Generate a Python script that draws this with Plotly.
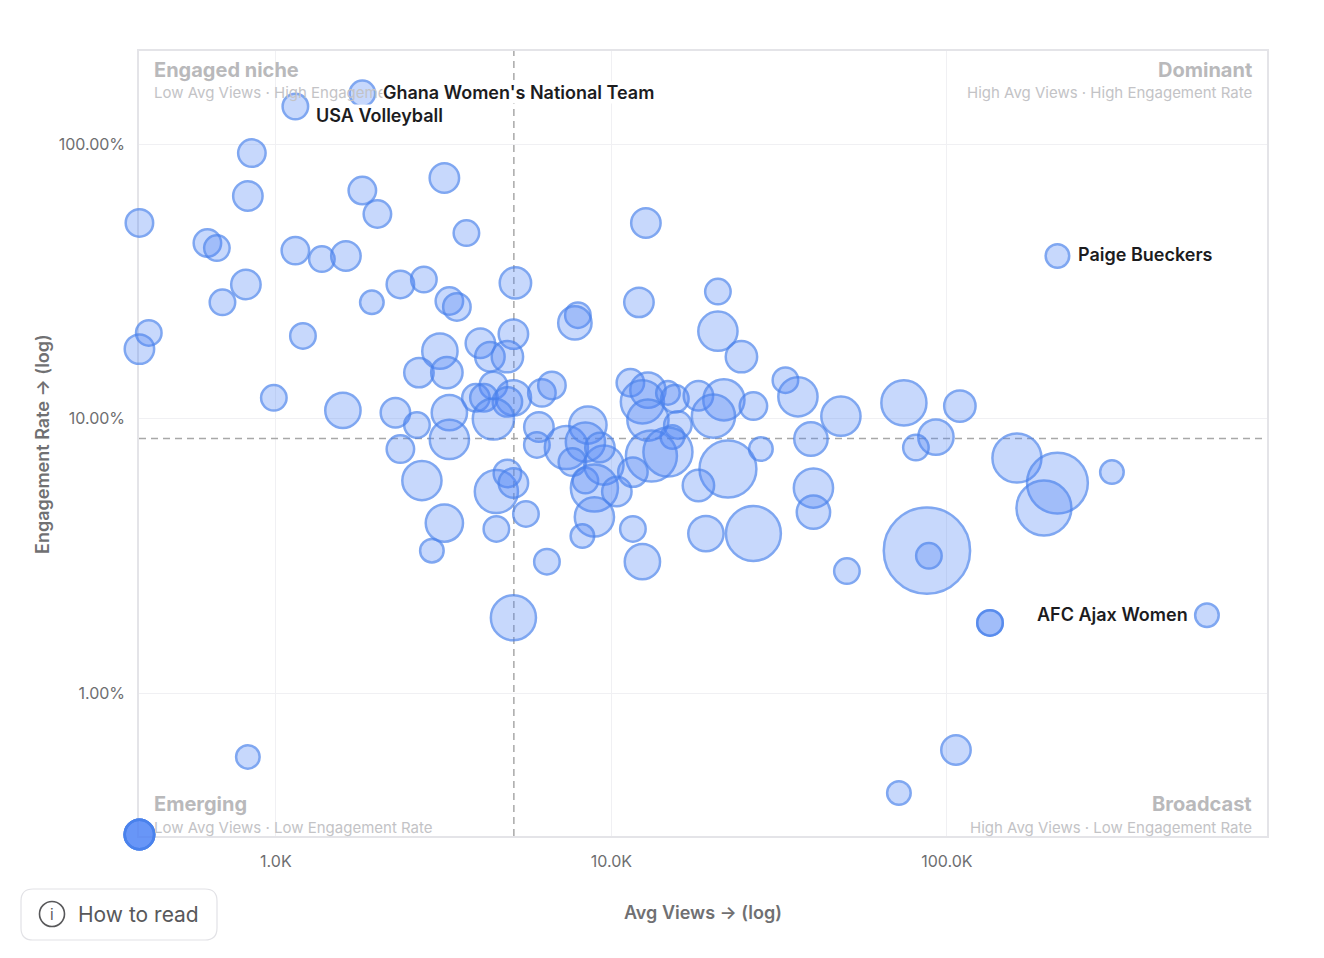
import numpy as np
import plotly.graph_objects as go

# ---------------- data ----------------
avg_views = [
    1810, 1143, 848, 825, 392, 1810, 2007, 3178, 12670, 625,
    667, 1143, 1371, 1617, 3697, 814, 693, 1932, 2350, 2761,
    3289, 3463, 5175, 12080, 20770, 213500, 418, 392, 1204, 986,
    1584, 5104, 7945, 7783, 20770, 24410, 3082, 2669, 3233, 4069,
    4344, 4898, 4449, 3946, 4169, 5104, 4898, 4449, 6206, 6648,
    2271, 2633, 3289, 3289, 2350, 6080, 5997, 7342, 8511, 8366,
    2724, 4541, 4898, 5104, 5563, 4541, 3178, 2917, 6424, 5104,
    11390, 12850, 12370, 14740, 15460, 18170, 21640, 20140, 12850, 15780,
    15200, 13160, 14740, 22250, 18170, 27900, 26500, 33010, 35970, 7651,
    8366, 9498, 8898, 10380, 11590, 8898, 8195, 11590, 12370, 9242,
    48310, 74440, 109300, 39330, 92730, 80830, 40010, 40010, 19130, 26500,
    87180, 88370, 50340, 161700, 213500, 194600, 310300, 134400, 134400, 595600,
    825, 71930, 106400, 392, 392, 392, 392, 392,
]
engagement_pct = [
    153, 137, 92.7, 64.7, 51.6, 67.7, 55.6, 75.2, 51.6, 43.6,
    41.8, 40.9, 38.1, 39.1, 47.4, 30.8, 26.5, 26.5, 30.8, 32.1,
    26.8, 25.5, 31.2, 26.5, 29.0, 39.1, 20.5, 17.9, 20.0, 11.9,
    10.7, 20.3, 23.8, 22.3, 20.8, 16.8, 17.6, 14.7, 14.7, 18.8,
    16.8, 16.8, 13.2, 11.9, 11.9, 11.9, 11.5, 9.96, 12.4, 13.2,
    10.5, 9.47, 10.5, 8.39, 7.74, 9.31, 8.01, 7.84, 9.47, 8.21,
    5.94, 5.42, 6.31, 5.82, 4.49, 3.96, 4.16, 3.30, 3.01, 1.88,
    13.5, 12.7, 11.5, 12.4, 11.8, 12.1, 11.7, 10.2, 9.87, 9.47,
    8.56, 7.30, 7.55, 6.55, 5.70, 7.74, 11.1, 13.8, 12.0, 6.94,
    5.94, 6.77, 5.58, 5.42, 6.38, 4.38, 3.73, 3.96, 3.01, 7.84,
    10.2, 11.4, 11.1, 8.42, 8.56, 7.84, 5.58, 4.56, 3.81, 3.81,
    3.30, 3.16, 2.78, 7.18, 5.82, 4.72, 6.38, 1.80, 1.80, 1.92,
    0.585, 0.432, 0.620, 0.305, 0.305, 0.305, 0.305, 0.305,
]
followers_k = [
    169, 169, 196, 225, 196, 196, 196, 225, 225, 196,
    169, 196, 169, 225, 169, 225, 169, 144, 196, 169,
    196, 196, 256, 225, 169, 144, 169, 225, 169, 169,
    324, 225, 169, 289, 400, 256, 324, 225, 256, 225,
    225, 256, 196, 196, 196, 324, 225, 441, 196, 196,
    225, 169, 324, 400, 196, 225, 169, 484, 361, 400,
    400, 484, 196, 225, 169, 169, 361, 144, 169, 529,
    196, 324, 484, 144, 196, 225, 441, 484, 441, 196,
    144, 676, 625, 841, 256, 144, 196, 169, 400, 196,
    169, 400, 576, 225, 225, 400, 144, 169, 324, 225,
    400, 529, 256, 289, 324, 169, 400, 289, 324, 784,
    1936, 169, 169, 625, 961, 784, 144, 169, 169, 144,
    144, 144, 225, 225, 225, 225, 225, 225,
]

# labelled accounts: (index into arrays, name)
label_index = [0, 1, 25, 119]
label_names = ["Ghana Women's National Team", "USA Volleyball",
               "Paige Bueckers", "AFC Ajax Women"]

median_views = 5120
median_engagement_pct = 8.45

x_tickvals = [1000, 10000, 100000]
x_ticktext = ["1.0K", "10.0K", "100.0K"]
y_tickvals = [0.01, 0.1, 1.0]
y_ticktext = ["1.00%", "10.00%", "100.00%"]

x_range_log = [2.592, 5.954]
y_range_log = [-2.521, 0.339]

quadrants = [
    ("Engaged niche", "Low Avg Views · High Engagement Rate", "top", "left"),
    ("Dominant", "High Avg Views · High Engagement Rate", "top", "right"),
    ("Emerging", "Low Avg Views · Low Engagement Rate", "bottom", "left"),
    ("Broadcast", "High Avg Views · Low Engagement Rate", "bottom", "right"),
]

# ---------------- figure ----------------
W, H = 1324, 958
ML, MR, MT, MB = 139, 57, 51, 122
PW, PH = W - ML - MR, H - MT - MB


def px_x(p):
    return (p - ML) / PW


def px_y(p):
    return (H - MB - p) / PH


eng = [v / 100 for v in engagement_pct]
FONT = "Inter"
BLUE = "rgb(74,130,236)"
FILL = "rgba(79,134,247,0.45)"

ymin, ymax = 10 ** y_range_log[0], 10 ** y_range_log[1]
xmin, xmax = 10 ** x_range_log[0], 10 ** x_range_log[1]

fig = go.Figure()

# median threshold lines
fig.add_trace(go.Scatter(
    x=[median_views, median_views], y=[ymin, ymax], mode="lines",
    line=dict(color="#a8a8a8", width=1.5, dash="7px,5px"),
    hoverinfo="skip", showlegend=False, cliponaxis=True))
fig.add_trace(go.Scatter(
    x=[xmin, xmax], y=[median_engagement_pct / 100] * 2, mode="lines",
    line=dict(color="#a8a8a8", width=1.5, dash="7px,5px"),
    hoverinfo="skip", showlegend=False, cliponaxis=True))

fig.add_trace(go.Scatter(
    x=avg_views, y=eng, mode="markers",
    marker=dict(size=followers_k, sizemode="area", sizeref=0.52,
                color=FILL, line=dict(color=BLUE, width=2.5)),
    cliponaxis=False, showlegend=False, hoverinfo="skip"))

annotations = []
# quadrant labels
for title, sub, vert, horiz in quadrants:
    xp = px_x(152) if horiz == "left" else px_x(1254)
    if vert == "top":
        yt, ys = px_y(70), px_y(92)
    else:
        yt, ys = px_y(804), px_y(827)
    annotations.append(dict(
        x=xp, y=yt, xref="paper", yref="paper", text=title, showarrow=False,
        xanchor=horiz, yanchor="middle",
        font=dict(family=FONT, size=20, color="#b9b9bb", weight=700)))
    annotations.append(dict(
        x=xp, y=ys, xref="paper", yref="paper", text=sub, showarrow=False,
        xanchor=horiz, yanchor="middle",
        font=dict(family=FONT, size=15, color="#c3c3c6")))

# point labels
for idx, name in zip(label_index, label_names):
    xv = np.log10(avg_views[idx])
    yv = np.log10(eng[idx])
    if name == "AFC Ajax Women":
        a = dict(xanchor="right", xshift=-18, yshift=1)
    elif name == "USA Volleyball":
        a = dict(xanchor="left", xshift=20, yshift=-9)
    else:
        a = dict(xanchor="left", xshift=20, yshift=1)
    annotations.append(dict(
        x=xv, y=yv, xref="x", yref="y", text=name, showarrow=False,
        yanchor="middle", bgcolor="white", borderpad=0,
        font=dict(family=FONT, size=18, color="#1c1c1e", weight=600),
        **a))

# axis titles
annotations.append(dict(
    x=px_x(703), y=px_y(912), xref="paper", yref="paper",
    text="Avg Views → (log)", showarrow=False, xanchor="center", yanchor="middle",
    font=dict(family=FONT, size=18, color="#707072", weight=600)))
annotations.append(dict(
    x=px_x(42), y=px_y(444), xref="paper", yref="paper",
    text="Engagement Rate → (log)", showarrow=False, textangle=-90,
    xanchor="center", yanchor="middle",
    font=dict(family=FONT, size=18, color="#707072", weight=600)))

# "How to read" button
annotations.append(dict(
    x=px_x(76), y=px_y(914), xref="paper", yref="paper", text="How to read",
    showarrow=False, xanchor="left", yanchor="middle",
    font=dict(family=FONT, size=21, color="#58585a")))
annotations.append(dict(
    x=px_x(52), y=px_y(914), xref="paper", yref="paper", text="i",
    showarrow=False, xanchor="center", yanchor="middle",
    font=dict(family=FONT, size=15, color="#58585a")))


def rounded_rect(x0, y0, x1, y1, r):
    # pixel coords -> paper path
    X = lambda p: f"{px_x(p):.5f}"
    Y = lambda p: f"{px_y(p):.5f}"
    return (f"M {X(x0 + r)} {Y(y0)} L {X(x1 - r)} {Y(y0)} "
            f"Q {X(x1)} {Y(y0)} {X(x1)} {Y(y0 + r)} L {X(x1)} {Y(y1 - r)} "
            f"Q {X(x1)} {Y(y1)} {X(x1 - r)} {Y(y1)} L {X(x0 + r)} {Y(y1)} "
            f"Q {X(x0)} {Y(y1)} {X(x0)} {Y(y1 - r)} L {X(x0)} {Y(y0 + r)} "
            f"Q {X(x0)} {Y(y0)} {X(x0 + r)} {Y(y0)} Z")


shapes = [
    dict(type="path", xref="paper", yref="paper",
         path=rounded_rect(21, 889, 217, 940, 12),
         line=dict(color="#e2e2e6", width=1.2), fillcolor="white", layer="above"),
    dict(type="circle", xref="paper", yref="paper",
         x0=px_x(39.5), x1=px_x(64.5), y0=px_y(926.5), y1=px_y(901.5),
         line=dict(color="#58585a", width=1.6), layer="above"),
]

fig.update_layout(
    width=W, height=H,
    margin=dict(l=ML, r=MR, t=MT, b=MB, pad=0),
    paper_bgcolor="white", plot_bgcolor="white",
    showlegend=False, hovermode=False,
    font=dict(family=FONT, color="#707072"),
    annotations=annotations, shapes=shapes,
    xaxis=dict(type="log", range=x_range_log, tickvals=x_tickvals, ticktext=x_ticktext,
               showgrid=True, gridcolor="#f0f0f3", gridwidth=1, zeroline=False,
               showline=True, mirror=True, linecolor="#e4e4e8", linewidth=1.5,
               layer="below traces",
               ticks="", ticklabelstandoff=10,
               tickfont=dict(family=FONT, size=16, color="#6e6e70")),
    yaxis=dict(type="log", range=y_range_log, tickvals=y_tickvals, ticktext=y_ticktext,
               showgrid=True, gridcolor="#f0f0f3", gridwidth=1, zeroline=False,
               showline=True, mirror=True, linecolor="#e4e4e8", linewidth=1.5,
               layer="below traces",
               ticks="", ticklabelstandoff=9,
               tickfont=dict(family=FONT, size=16, color="#6e6e70")),
)

fig.write_html("out.html", config={"displayModeBar": False},
               post_script="document.body.style.margin='0';document.body.style.overflow='hidden';")
